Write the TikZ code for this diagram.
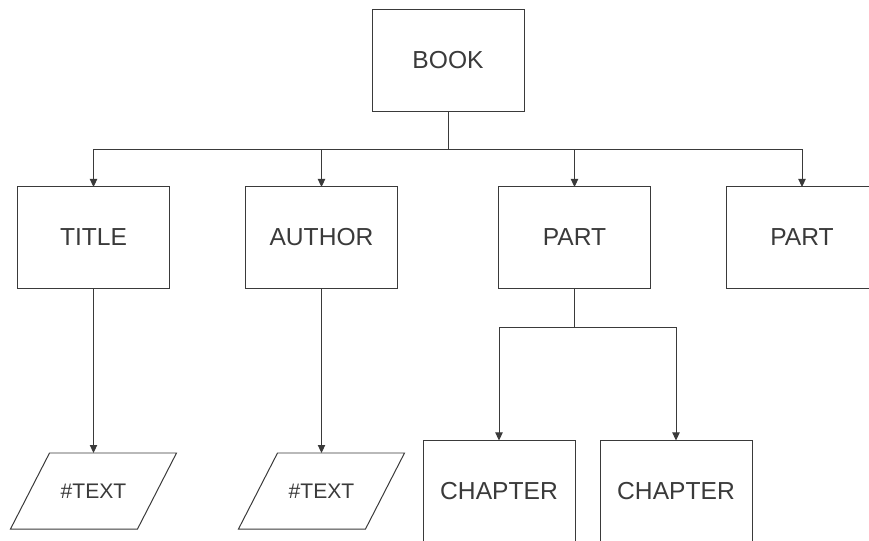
\documentclass[tikz,border=0pt]{standalone}
\usepackage{fontspec}
\setmainfont{Liberation Sans}
\usetikzlibrary{arrows.meta}
\definecolor{linegray}{HTML}{3A3A3A}
\tikzset{
  box/.style={draw=linegray, line width=0.85pt, minimum width=4.56cm, minimum height=3.03cm,
    inner sep=0pt, outer sep=0pt, text=linegray, font=\fontsize{21}{25}\selectfont},
  databox/.style={minimum width=3.81cm, minimum height=2.28cm, inner sep=0pt, outer sep=0pt,
    text=linegray, font=\fontsize{18}{22}\selectfont},
  arr/.style={draw=linegray, line width=0.85pt, -{Triangle[length=0.24cm,width=0.22cm]}},
  link/.style={draw=linegray, line width=0.85pt}
}
\begin{document}
\begin{tikzpicture}[x=0.03cm, y=-0.03cm]
        \useasboundingbox (0,0) rectangle (869,541);
        \clip (0,0) rectangle (869,541);

        % Root
        \node[box] (book) at (448,60.5) {BOOK};

        % Second level
        \node[box] (title) at (93.5,237.5) {TITLE};
        \node[box] (author) at (321.5,237.5) {AUTHOR};
        \node[box] (part) at (574.5,237.5) {PART};
        \node[box] (partb) at (802,237.5) {PART};

        % Leaves
        \node[databox] (titletext) at (93.5,491) {\#TEXT};
        \node[databox] (authortext) at (321.5,491) {\#TEXT};
        \node[box] (chapter) at (499,491) {CHAPTER};
        \node[box] (chapterb) at (676,491) {CHAPTER};

        % Slanted outlines of the text leaves
        \draw[link] ([xshift=0.585cm]titletext.north west) -- ([xshift=0.585cm]titletext.north east)
          -- ([xshift=-0.585cm]titletext.south east) -- ([xshift=-0.585cm]titletext.south west) -- cycle;
        \draw[link] ([xshift=0.585cm]authortext.north west) -- ([xshift=0.585cm]authortext.north east)
          -- ([xshift=-0.585cm]authortext.south east) -- ([xshift=-0.585cm]authortext.south west) -- cycle;

        % Connectors from the book
        \coordinate (bookbus) at (448,149);
        \draw[link] (book.south) -- (bookbus);
        \draw[arr] (bookbus) -| (title.north);
        \draw[arr] (bookbus) -| (author.north);
        \draw[arr] (bookbus) -| (part.north);
        \draw[arr] (bookbus) -| (partb.north);

        \draw[arr] (title.south) -- (titletext.north);
        \draw[arr] (author.south) -- (authortext.north);

        % Part splits into chapters
        \coordinate (partbus) at (574.5,327);
        \draw[link] (part.south) -- (partbus);
        \draw[arr] (partbus) -| (chapter.north);
        \draw[arr] (partbus) -| (chapterb.north);
    \end{tikzpicture}
\end{document}
